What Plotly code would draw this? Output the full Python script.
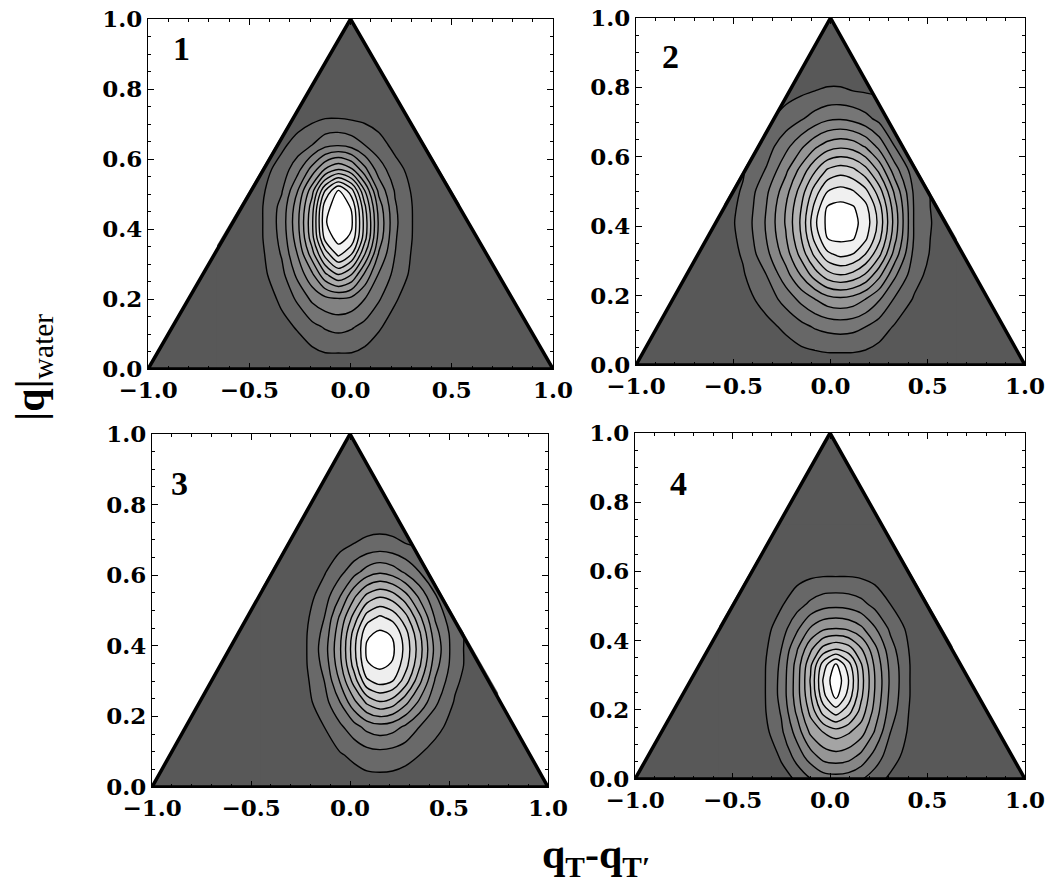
import plotly.graph_objects as go
from plotly.subplots import make_subplots

# density grids (x10 of contour level)
P1_X = [-0.66, -0.56, -0.44, -0.34, -0.26, -0.19, -0.125, -0.06, 0.005, 0.07, 0.14, 0.22, 0.32, 0.44, 0.54]
P1_Y = [-0.03, 0.04, 0.12, 0.2, 0.27, 0.33, 0.375, 0.42, 0.465, 0.51, 0.57, 0.64, 0.72, 0.8, 0.87]
P1_Z = [
    [0, 0, 0, 0, 0, 2, 3, 3, 3, 2, 0, 0, 0, 0, 0],
    [0, 0, 0, 2, 5, 7, 9, 9, 9, 7, 5, 1, 0, 0, 0],
    [0, 0, 1, 7, 11, 17, 21, 23, 21, 17, 11, 6, 0, 0, 0],
    [0, 0, 4, 12, 22, 32, 37, 39, 37, 30, 21, 11, 4, 0, 0],
    [0, 0, 7, 17, 33, 48, 68, 80, 70, 48, 29, 17, 6, 0, 0],
    [0, 0, 8, 21, 41, 66, 95, 114, 101, 71, 39, 20, 7, 0, 0],
    [0, 0, 9, 23, 46, 76, 114, 124, 118, 84, 46, 21, 8, 0, 0],
    [0, 0, 9, 24, 48, 78, 119, 128, 122, 86, 48, 22, 8, 0, 0],
    [0, 0, 9, 23, 46, 75, 116, 126, 119, 82, 45, 21, 8, 0, 0],
    [0, 0, 8, 19, 40, 66, 100, 121, 104, 70, 37, 19, 7, 0, 0],
    [0, 0, 6, 14, 27, 44, 61, 70, 62, 43, 25, 14, 5, 0, 0],
    [0, 0, 2, 8, 14, 20, 27, 29, 26, 20, 14, 7, 1, 0, 0],
    [0, 0, 0, 2, 5, 7, 9, 9, 8, 7, 5, 1, 0, 0, 0],
    [0, 0, 0, 0, 0, 0, 0, 1, 0, 0, 0, 0, 0, 0, 0],
    [0, 0, 0, 0, 0, 0, 0, 0, 0, 0, 0, 0, 0, 0, 0],
]

P2_X = [-0.55, -0.45, -0.33, -0.23, -0.15, -0.08, -0.015, 0.05, 0.115, 0.18, 0.25, 0.33, 0.43, 0.55, 0.65]
P2_Y = [-0.04, 0.03, 0.11, 0.19, 0.26, 0.32, 0.365, 0.41, 0.455, 0.5, 0.56, 0.63, 0.71, 0.79, 0.86]
P2_Z = [
    [0, 0, 0, 0, 1, 2, 3, 3, 3, 2, 1, 0, 0, 0, 0],
    [0, 0, 2, 5, 7, 8, 9, 9, 9, 8, 6, 4, 0, 0, 0],
    [0, 2, 7, 12, 17, 21, 23, 24, 23, 20, 15, 9, 5, 0, 0],
    [1, 6, 14, 24, 33, 40, 46, 48, 46, 40, 31, 19, 9, 2, 0],
    [4, 9, 20, 36, 51, 65, 76, 80, 77, 69, 53, 32, 14, 4, 0],
    [5, 11, 27, 45, 64, 83, 98, 103, 100, 90, 73, 46, 17, 6, 0],
    [6, 12, 30, 49, 70, 93, 110, 112, 111, 102, 83, 53, 19, 6, 0],
    [6, 13, 31, 51, 72, 98, 113, 118, 113, 106, 87, 56, 19, 7, 0],
    [6, 12, 30, 50, 70, 93, 111, 113, 111, 103, 84, 54, 19, 6, 0],
    [5, 11, 28, 46, 65, 85, 100, 104, 101, 93, 75, 48, 18, 6, 0],
    [4, 9, 21, 38, 54, 69, 82, 86, 83, 74, 58, 35, 14, 5, 0],
    [2, 7, 15, 27, 38, 48, 55, 58, 56, 49, 37, 20, 9, 3, 0],
    [0, 3, 8, 14, 19, 24, 28, 29, 27, 23, 17, 10, 6, 0, 0],
    [0, 0, 3, 6, 8, 10, 11, 11, 10, 9, 8, 5, 1, 0, 0],
    [0, 0, 0, 2, 3, 4, 5, 5, 5, 4, 3, 0, 0, 0, 0],
]

P3_X = [-0.45, -0.35, -0.23, -0.13, -0.05, 0.02, 0.085, 0.15, 0.215, 0.28, 0.35, 0.43, 0.53, 0.65, 0.75]
P3_Y = [-0.06, 0.01, 0.09, 0.17, 0.24, 0.3, 0.345, 0.39, 0.435, 0.48, 0.54, 0.61, 0.69, 0.77, 0.84]
P3_Z = [
    [0, 0, 0, 0, 0, 0, 0, 0, 0, 0, 0, 0, 0, 0, 0],
    [0, 0, 0, 0, 2, 5, 6, 6, 6, 5, 3, 0, 0, 0, 0],
    [0, 0, 0, 5, 9, 12, 15, 16, 15, 13, 10, 6, 1, 0, 0],
    [0, 0, 3, 10, 18, 26, 33, 36, 34, 28, 20, 13, 6, 0, 0],
    [0, 0, 6, 16, 30, 47, 62, 69, 65, 53, 38, 22, 9, 1, 0],
    [0, 0, 7, 20, 41, 64, 88, 94, 90, 75, 53, 29, 12, 2, 0],
    [0, 0, 8, 23, 47, 74, 99, 102, 99, 84, 62, 34, 14, 3, 0],
    [0, 0, 8, 25, 49, 77, 102, 108, 102, 87, 65, 37, 14, 3, 0],
    [0, 0, 8, 23, 47, 74, 98, 102, 99, 84, 62, 34, 14, 3, 0],
    [0, 0, 7, 20, 42, 64, 85, 92, 87, 74, 53, 29, 11, 2, 0],
    [0, 0, 5, 15, 30, 48, 63, 69, 65, 54, 38, 21, 9, 0, 0],
    [0, 0, 2, 9, 17, 26, 34, 38, 35, 28, 20, 11, 5, 0, 0],
    [0, 0, 0, 3, 7, 10, 12, 13, 12, 10, 8, 5, 0, 0, 0],
    [0, 0, 0, 0, 0, 2, 4, 4, 4, 3, 1, 0, 0, 0, 0],
    [0, 0, 0, 0, 0, 0, 0, 0, 0, 0, 0, 0, 0, 0, 0],
]

P4_X = [-0.57, -0.47, -0.35, -0.25, -0.17, -0.1, -0.035, 0.03, 0.095, 0.16, 0.23, 0.31, 0.41, 0.53, 0.63]
P4_Y = [-0.165, -0.095, -0.015, 0.065, 0.135, 0.195, 0.24, 0.285, 0.33, 0.375, 0.435, 0.505, 0.585, 0.665, 0.735]
P4_Z = [
    [0, 0, 0, 0, 0, 0, 1, 1, 1, 0, 0, 0, 0, 0, 0],
    [0, 0, 0, 1, 4, 6, 7, 7, 7, 6, 4, 2, 0, 0, 0],
    [0, 0, 0, 6, 10, 16, 20, 21, 20, 17, 12, 7, 2, 0, 0],
    [0, 0, 3, 11, 24, 35, 44, 46, 44, 37, 26, 14, 6, 0, 0],
    [0, 0, 5, 18, 34, 52, 60, 65, 61, 54, 39, 20, 8, 0, 0],
    [0, 0, 7, 21, 42, 63, 84, 95, 84, 66, 46, 25, 9, 0, 0],
    [0, 0, 7, 23, 45, 69, 97, 113, 96, 72, 49, 27, 10, 0, 0],
    [0, 0, 7, 23, 45, 71, 101, 118, 100, 74, 50, 28, 10, 1, 0],
    [0, 0, 7, 22, 44, 68, 95, 112, 94, 71, 48, 27, 10, 0, 0],
    [0, 0, 6, 20, 39, 58, 74, 80, 75, 61, 43, 24, 9, 0, 0],
    [0, 0, 5, 15, 28, 41, 48, 50, 48, 42, 31, 18, 7, 0, 0],
    [0, 0, 2, 9, 16, 22, 26, 27, 26, 23, 17, 10, 4, 0, 0],
    [0, 0, 0, 3, 7, 9, 10, 10, 10, 9, 7, 4, 0, 0, 0],
    [0, 0, 0, 0, 0, 1, 2, 2, 2, 1, 0, 0, 0, 0, 0],
    [0, 0, 0, 0, 0, 0, 0, 0, 0, 0, 0, 0, 0, 0, 0],
]

N_LEVELS = [12, 11, 10, 11]
PANEL_LABELS = ["1", "2", "3", "4"]

# triangle |q| <= 1 - |q_T - q_T'|
TRI_X = [-1, 0, 1, -1]
TRI_Y = [0, 1, 0, 0]
MASK_LEFT_X = [-1.02, 0, -1.02, -1.02]
MASK_RIGHT_X = [1.02, 0, 1.02, 1.02]
MASK_Y = [0, 1, 1.02, 0]

DARK = "rgb(88,88,88)"
SERIF_BOLD = dict(family="DejaVu Serif", size=23, color="black", weight="bold")

panels = [(P1_X, P1_Y, P1_Z), (P2_X, P2_Y, P2_Z), (P3_X, P3_Y, P3_Z), (P4_X, P4_Y, P4_Z)]
domains = [
    ([0.1410, 0.5267], [0.5849, 0.9786]),
    ([0.6057, 0.9762], [0.5894, 0.9798]),
    ([0.1448, 0.5219], [0.1147, 0.5118]),
    ([0.6048, 0.9762], [0.1237, 0.5129]),
]
label_pos = [(-0.835, 0.915), (-0.824, 0.89), (-0.86, 0.86), (-0.778, 0.855)]

fig = make_subplots(rows=2, cols=2)

tri_path = "M " + " L ".join("%g %g" % (x, y) for x, y in zip(TRI_X, TRI_Y)) + " Z"

for n, (xs, ys, zs) in enumerate(panels):
    r, c = n // 2 + 1, n % 2 + 1
    nl = N_LEVELS[n]
    sfx = "" if n == 0 else str(n + 1)
    # dark triangle under the contours
    fig.add_shape(type="path", path=tri_path, xref="x" + sfx, yref="y" + sfx,
                  fillcolor=DARK, line=dict(width=0), layer="below")
    fig.add_trace(go.Contour(x=xs, y=ys, z=zs,
                             contours=dict(start=10, end=10 * nl, size=10, coloring="fill"),
                             colorscale=[[0, DARK], [1, "rgb(255,255,255)"]],
                             line=dict(color="black", width=1.4, smoothing=0.8),
                             showscale=False, hoverinfo="skip"),
                  row=r, col=c)
    for mx in (MASK_LEFT_X, MASK_RIGHT_X):
        fig.add_trace(go.Scatter(x=mx, y=MASK_Y, fill="toself", fillcolor="white",
                                 line=dict(width=0), mode="lines", hoverinfo="skip"),
                      row=r, col=c)
    fig.add_trace(go.Scatter(x=TRI_X, y=TRI_Y, mode="lines", cliponaxis=False,
                             line=dict(color="black", width=3.5), hoverinfo="skip"),
                  row=r, col=c)
    fig.layout["xaxis" + sfx].domain = domains[n][0]
    fig.layout["yaxis" + sfx].domain = domains[n][1]
    fig.add_annotation(x=label_pos[n][0], y=label_pos[n][1], xref="x" + sfx, yref="y" + sfx,
                       text="<b>%s</b>" % PANEL_LABELS[n], showarrow=False,
                       font=dict(family="Liberation Serif", size=34, color="black"))

common = dict(tickformat=".1f", ticks="inside", ticklen=6, tickcolor="black",
              showline=True, linecolor="black", linewidth=1.2, mirror="allticks",
              showgrid=False, zeroline=False, tickfont=SERIF_BOLD, automargin=False)
fig.update_xaxes(range=[-1, 1], dtick=0.5,
                 minor=dict(dtick=0.1, ticks="inside", ticklen=3, tickcolor="black"), **common)
fig.update_yaxes(range=[0, 1], dtick=0.2,
                 minor=dict(dtick=0.05, ticks="inside", ticklen=3, tickcolor="black"), **common)

fig.add_annotation(x=33 / 1050, y=1 - 368 / 889, xref="paper", yref="paper", textangle=-90,
                   xanchor="center", yanchor="middle",
                   text="<b>|q|</b><sub>water</sub>", showarrow=False,
                   font=dict(family="Liberation Serif", size=42, color="black"))
fig.add_annotation(x=596 / 1050, y=1 - 857 / 889, xref="paper", yref="paper",
                   xanchor="center", yanchor="middle",
                   text="<b>q<sub>T</sub>-q<sub>T′</sub></b>", showarrow=False,
                   font=dict(family="Liberation Serif", size=42, color="black"))

fig.update_layout(width=1050, height=889,
                  margin=dict(l=0, r=0, t=0, b=0, pad=0, autoexpand=False),
                  paper_bgcolor="white", plot_bgcolor="white", showlegend=False)
fig.write_html("out.html", config={"displayModeBar": False},
               post_script="document.body.style.margin='0px';")
